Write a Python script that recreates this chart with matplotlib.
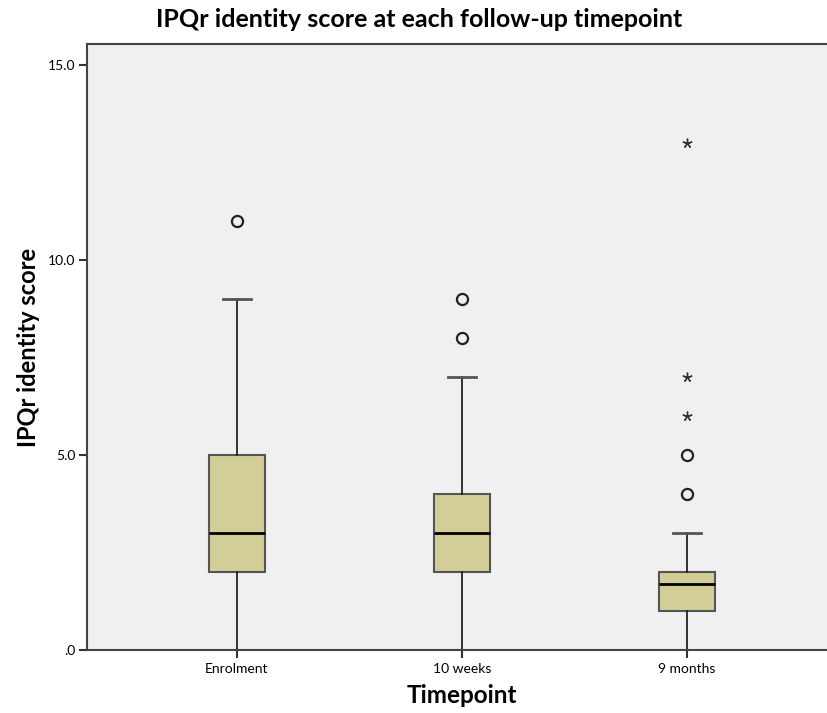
import matplotlib
matplotlib.use("Agg")
import matplotlib.pyplot as plt

plt.rcParams['font.family'] = ['Lato', 'DejaVu Sans']

# Data
timepoints = ["Enrolment", "10 weeks", "9 months"]
whisker_low = [0, 0, 0]
q1 = [2, 2, 1]
median = [3, 3, 1.7]
q3 = [5, 4, 2]
whisker_high = [9, 7, 3]
outliers = [[11], [8, 9], [4, 5]]
extremes = [[], [], [6, 7, 13]]

box_color = "#d3ce98"
bg_color = "#f0f0f0"

stats = []
for i, name in enumerate(timepoints):
    stats.append(dict(label=name, whislo=whisker_low[i], q1=q1[i], med=median[i],
                      q3=q3[i], whishi=whisker_high[i], fliers=outliers[i]))

fig = plt.figure(figsize=(8.27, 7.13), dpi=100)
ax = fig.add_axes([0.105, 0.088, 0.907, 0.85])
ax.set_facecolor(bg_color)

positions = list(range(1, len(timepoints) + 1))
ax.bxp(stats, positions=positions, widths=0.25, patch_artist=True,
       boxprops=dict(facecolor=box_color, edgecolor="#555555", linewidth=1.5),
       medianprops=dict(color="black", linewidth=2),
       whiskerprops=dict(color="#222222", linewidth=1.3),
       capprops=dict(color="#555555", linewidth=2),
       capwidths=0.125,
       flierprops=dict(marker="o", markerfacecolor="none", markeredgecolor="#222222",
                       markersize=8, markeredgewidth=1.6))

for i, vals in enumerate(extremes):
    if vals:
        ax.plot([positions[i]] * len(vals), vals, linestyle="none", marker=(5, 2, 0),
                markersize=7, color="#333333", markeredgewidth=1.0)

ax.set_xlim(1 - 0.667, len(timepoints) + 0.667)
ax.set_ylim(0, 15.54)
ax.set_yticks([0, 5, 10, 15])
ax.set_yticklabels([".0", "5.0", "10.0", "15.0"], fontsize=10)
ax.set_xticks(positions)
ax.set_xticklabels(timepoints, fontsize=10)
ax.tick_params(axis="both", direction="out", length=6, width=1.5, color="#333333")
ax.tick_params(axis="x", pad=3)
ax.tick_params(axis="y", pad=2)

for s in ax.spines.values():
    s.set_color("#444444")
    s.set_linewidth(1.5)

ax.set_xlabel("Timepoint", fontsize=17.5, fontweight="bold", labelpad=7)
ax.set_ylabel("IPQr identity score", fontsize=17, fontweight="bold", labelpad=6)
fig.text(0.507, 0.972, "IPQr identity score at each follow-up timepoint",
         ha="center", va="center", fontsize=18, fontweight="bold")

plt.savefig("out.png", dpi=100)
